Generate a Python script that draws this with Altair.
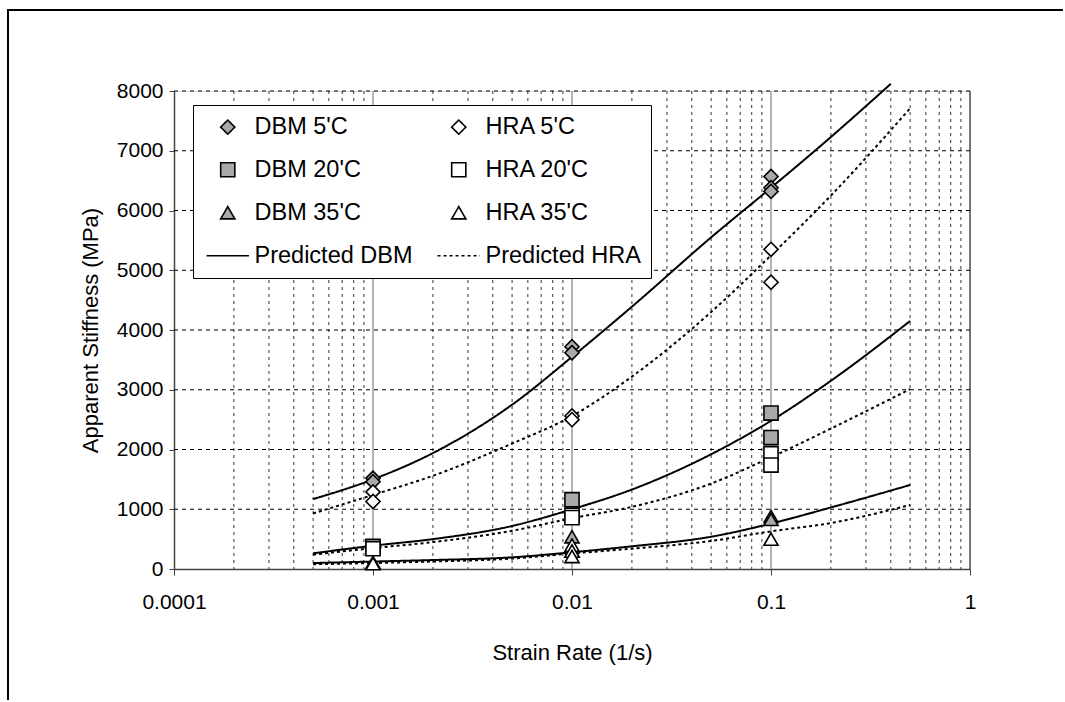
import altair as alt
import pandas as pd

FONT = "Liberation Sans"

# Measured apparent stiffness (MPa) at each tested strain rate (1/s)
rates = [0.001, 0.01, 0.1]
series_names = ["DBM 5'C", "HRA 5'C", "DBM 20'C", "HRA 20'C", "DBM 35'C", "HRA 35'C"]
dbm_5 = [[1520, 1460], [3720, 3620], [6570, 6380, 6320]]
hra_5 = [[1290, 1130], [2560, 2500], [5350, 4800]]
dbm_20 = [[380], [1160], [2610, 2200]]
hra_20 = [[340], [900, 860], [1930, 1740]]
dbm_35 = [[110], [540, 380, 300], [880, 830]]
hra_35 = [[90], [400, 300, 210], [500]]

# Predicted stiffness curves
pred_rates = [0.0005, 0.001, 0.002, 0.005, 0.01, 0.02, 0.05, 0.1, 0.2, 0.5]
pred_rates_dbm_5 = [0.0005, 0.001, 0.002, 0.005, 0.01, 0.02, 0.05, 0.1, 0.2, 0.4]
pred_dbm_5 = [1170, 1500, 1940, 2750, 3550, 4390, 5550, 6380, 7230, 8120]
pred_hra_5 = [930, 1240, 1560, 2100, 2560, 3220, 4300, 5250, 6250, 7710]
pred_dbm_20 = [262, 390, 500, 720, 1000, 1330, 1920, 2480, 3150, 4150]
pred_hra_20 = [240, 350, 450, 640, 850, 1040, 1430, 1870, 2350, 3010]
pred_dbm_35 = [100, 125, 150, 195, 280, 380, 540, 760, 1030, 1406]
pred_hra_35 = [80, 100, 125, 175, 260, 340, 470, 630, 770, 1071]

# Axis and grid positions
x_decades = [0.0001, 0.001, 0.01, 0.1, 1]
x_major_grid = [0.001, 0.01, 0.1, 1]
x_minor_grid = [m * d for d in [0.0001, 0.001, 0.01, 0.1] for m in range(2, 10)]
y_ticks = [0, 1000, 2000, 3000, 4000, 5000, 6000, 7000, 8000]
y_grid = [1000, 2000, 3000, 4000, 5000, 6000, 7000, 8000]

legend_order = series_names + ["Predicted DBM", "Predicted HRA"]

# ---- tables -------------------------------------------------------------
rows = []
for name, groups in zip(series_names, [dbm_5, hra_5, dbm_20, hra_20, dbm_35, hra_35]):
    for r, vals in zip(rates, groups):
        for v in vals:
            rows.append({"rate": r, "stiffness": v, "series": name})
points_df = pd.DataFrame(rows)

curve_rows = []
for curve, kind, xs, ys in [
    ("DBM 5", "Predicted DBM", pred_rates_dbm_5, pred_dbm_5),
    ("HRA 5", "Predicted HRA", pred_rates, pred_hra_5),
    ("DBM 20", "Predicted DBM", pred_rates, pred_dbm_20),
    ("HRA 20", "Predicted HRA", pred_rates, pred_hra_20),
    ("DBM 35", "Predicted DBM", pred_rates, pred_dbm_35),
    ("HRA 35", "Predicted HRA", pred_rates, pred_hra_35),
]:
    for xv, yv in zip(xs, ys):
        curve_rows.append({"rate": xv, "stiffness": yv, "curve": curve, "series": kind})
curves_df = pd.DataFrame(curve_rows)

# ---- scales -------------------------------------------------------------
x_scale = alt.Scale(type="log", domain=[0.0001, 1], nice=False)
y_scale = alt.Scale(domain=[0, 8000], nice=False)

x_enc = alt.X(
    "rate:Q", scale=x_scale, title="Strain Rate (1/s)",
    axis=alt.Axis(values=x_decades, format="~g", grid=False, tickSize=6,
                  labelFlush=False, labelPadding=16, titlePadding=30),
)
y_enc = alt.Y(
    "stiffness:Q", scale=y_scale, title="Apparent Stiffness (MPa)",
    axis=alt.Axis(values=y_ticks, format="d", grid=False, tickSize=5,
                  labelFlush=False, labelPadding=6, titlePadding=14),
)

no_title = alt.Legend(title=None, direction="horizontal")
# a long horizontal stroke (path in unit coordinates) for the line entries
line_sample = "M-3,0H3"
shape_scale = alt.Scale(
    domain=legend_order,
    range=["diamond", "diamond", "square", "square", "triangle-up", "triangle-up",
           line_sample, line_sample],
)
fill_scale = alt.Scale(
    domain=legend_order,
    range=["#a9a9a9", "white", "#a9a9a9", "white", "#a9a9a9", "white",
           "transparent", "transparent"],
)
stroke_scale = alt.Scale(domain=legend_order, range=["black"] * 8)
size_scale = alt.Scale(domain=legend_order, range=[200] * 8)
dash_scale = alt.Scale(
    domain=legend_order,
    range=[[1, 0], [1, 0], [1, 0], [1, 0], [1, 0], [1, 0], [1, 0], [3, 3]],
)

# ---- grid ---------------------------------------------------------------
y_grid_layer = alt.Chart(pd.DataFrame({"v": y_grid})).mark_rule(
    color="black", strokeWidth=1, strokeDash=[4, 4]
).encode(y=alt.Y("v:Q", scale=y_scale))

x_minor_layer = alt.Chart(pd.DataFrame({"v": x_minor_grid})).mark_rule(
    color="#333333", strokeWidth=1, strokeDash=[3, 4]
).encode(x=alt.X("v:Q", scale=x_scale))

x_major_layer = alt.Chart(pd.DataFrame({"v": x_major_grid})).mark_rule(
    strokeWidth=1.3
).encode(
    x=alt.X("v:Q", scale=x_scale),
    color=alt.condition(alt.datum.v >= 1, alt.value("#333333"), alt.value("#8c8c8c")),
)

# ---- data ---------------------------------------------------------------
lines = alt.Chart(curves_df).mark_line(
    strokeWidth=2, interpolate="monotone"
).encode(
    x=x_enc,
    y=y_enc,
    detail="curve:N",
    stroke=alt.Stroke("series:N", scale=stroke_scale, legend=no_title),
    strokeDash=alt.StrokeDash("series:N", scale=dash_scale, legend=no_title),
)

points = alt.Chart(points_df).mark_point(
    strokeWidth=1.6, opacity=1
).encode(
    x=x_enc,
    y=y_enc,
    shape=alt.Shape("series:N", scale=shape_scale, legend=no_title),
    fill=alt.Fill("series:N", scale=fill_scale, legend=no_title),
    stroke=alt.Stroke("series:N", scale=stroke_scale, legend=no_title),
    size=alt.Size("series:N", scale=size_scale, legend=no_title),
)

# ---- outer chart frame (only its top and left edges fall inside the page) --
frame = alt.Chart(pd.DataFrame({"k": [0]})).mark_rect(
    fill=None, stroke="black", strokeWidth=2
).encode(
    x=alt.value(-166), x2=alt.value(920), y=alt.value(-81), y2=alt.value(640)
)

chart = alt.layer(
    x_minor_layer, x_major_layer, y_grid_layer, lines, points, frame
).properties(
    width=796,
    height=478,
    autosize=alt.AutoSizeParams(type="none"),
    padding={"left": 174, "top": 91, "right": 93, "bottom": 131},
    background="white",
).configure_view(
    stroke=None
).configure(
    font=FONT
).configure_axis(
    labelFont=FONT, titleFont=FONT, labelFontSize=21, titleFontSize=22,
    titleFontWeight="normal", labelColor="black", titleColor="black",
    domainColor="#444444", tickColor="#444444", domainWidth=1.5,
).configure_legend(
    orient="none", legendX=19, legendY=14, columns=2, padding=10,
    strokeColor="black", fillColor="white", labelFont=FONT, labelFontSize=23.5,
    labelColor="black", symbolStrokeColor="black", symbolStrokeWidth=1.6,
    symbolOpacity=1, symbolOffset=13, labelOffset=15, columnPadding=21,
    rowPadding=18, labelLimit=400,
)

chart.save("out.html", embed_options={"renderer": "svg", "actions": False})
